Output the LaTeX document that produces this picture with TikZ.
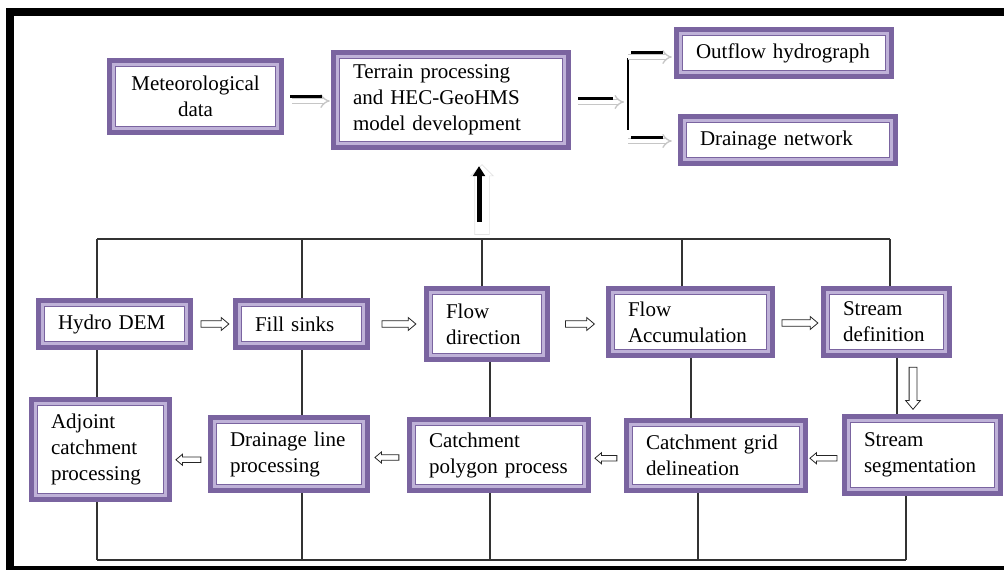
\documentclass[tikz,border=0pt]{standalone}
\usepackage{fontspec}
\setmainfont{Liberation Serif}
\usetikzlibrary{calc,shapes.arrows,arrows.meta}
\definecolor{boxdark}{HTML}{7A64A0}
\definecolor{boxlight}{HTML}{BFB2D8}
\definecolor{linkgray}{HTML}{333333}
\newcommand\boxfont{\fontsize{21}{26}\selectfont}
\tikzset{
  x=1pt, y=-1pt,
  % framed box: thick purple, lavender band, thin purple line, white inside
  pbox/.style 2 args={fill=boxdark, draw=none, inner ysep=0pt, inner xsep=22pt,
    text width=#1pt, minimum height=#2pt, align=left, font=\boxfont,
    path picture={
      \fill[boxlight] ([shift={(5pt,-5pt)}]path picture bounding box.north west)
        rectangle ([shift={(-5pt,5pt)}]path picture bounding box.south east);
      \fill[boxdark] ([shift={(7.8pt,-7.8pt)}]path picture bounding box.north west)
        rectangle ([shift={(-7.8pt,7.8pt)}]path picture bounding box.south east);
      \fill[white] ([shift={(9pt,-9pt)}]path picture bounding box.north west)
        rectangle ([shift={(-9pt,9pt)}]path picture bounding box.south east);
    }},
  link/.style={draw=linkgray, line width=1.2pt},
  openarr/.style={single arrow, draw=black!85, fill=white, line width=0.8pt,
    inner sep=2.8pt, single arrow head extend=3.2pt,
    single arrow tip angle=80, minimum height=#1},
  leftarr/.style={openarr=#1, shape border rotate=180, inner sep=2.3pt,
    single arrow head extend=2.8pt},
  grayarr/.style={draw=gray!45, double=white, double distance=3.5pt,
    line width=1.3pt, -{Implies[length=6pt]}},
  bar/.style={draw=black, line width=3pt},
}
\begin{document}
\begin{tikzpicture}
\useasboundingbox (0,0) rectangle (1004,570);
\fill[white] (0,0) rectangle (1004,570);
% outer frame
\fill[black] (6,8) rectangle (1004,16);
\fill[black] (6,8) rectangle (14,570);
\fill[black] (6,566) rectangle (1004,570);

% top row
\node[pbox={133}{77}, align=center] (meteo) at (195.5,96.5) {Meteorological\\data};
\node[pbox={196}{100}] (terrain) at (451,100) {Terrain processing\\and HEC-GeoHMS\\model development};
\node[pbox={176}{52}] (outflow) at (784,53) {Outflow hydrograph};
\node[pbox={176}{52}] (drainnet) at (788,140) {Drainage network};

% processing row 1
\node[pbox={113}{52}] (hydro) at (114.5,324) {Hydro DEM};
\node[pbox={93}{52}] (fill) at (301.5,324) {Fill sinks};
\node[pbox={82}{76}] (flowdir) at (487,324) {Flow\\direction};
\node[pbox={125}{72}] (flowacc) at (690.5,322) {Flow\\Accumulation};
\node[pbox={87}{72}] (streamdef) at (886.5,322) {Stream\\definition};

% processing row 2
\node[pbox={99}{105}] (adjoint) at (100.5,449.5) {Adjoint\\catchment\\processing};
\node[pbox={118}{78}] (drainline) at (289,454) {Drainage line\\processing};
\node[pbox={140}{76}] (poly) at (499,455) {Catchment\\polygon process};
\node[pbox={140}{75}] (grid) at (716,455.5) {Catchment grid\\delineation};
\node[pbox={117}{82}] (seg) at (922.5,455) {Stream\\segmentation};

% column and bus positions
\coordinate (tb) at (0,239);
\coordinate (bb) at (0,560);
\coordinate (x1) at (97,0);
\coordinate (x2) at (302,0);
\coordinate (x3t) at (482,0);
\coordinate (x3) at (490,0);
\coordinate (x4t) at (682,0);
\coordinate (x4m) at (691,0);
\coordinate (x4b) at (698,0);
\coordinate (x5t) at (890,0);
\coordinate (x5m) at (897,0);
\coordinate (x5b) at (906,0);
\coordinate (xv) at (913,0);
\coordinate (xup) at (479,0);

% top bus
\draw[link] (tb -| x1) -- (tb -| x5t);
\foreach \n/\c in {hydro/x1, fill/x2, flowdir/x3t, flowacc/x4t, streamdef/x5t}
  \draw[link] (tb -| \c) -- (\n.north -| \c);
% links between the two rows
\foreach \a/\b/\c in {hydro/adjoint/x1, fill/drainline/x2, flowdir/poly/x3,
                     flowacc/grid/x4m, streamdef/seg/x5m}
  \draw[link] (\a.south -| \c) -- (\b.north -| \c);
% bottom bus
\draw[link] (bb -| x1) -- (bb -| x5b);
\foreach \n/\c in {adjoint/x1, drainline/x2, poly/x3, grid/x4b, seg/x5b}
  \draw[link] (\n.south -| \c) -- (bb -| \c);

% open arrows, row 1
\node[openarr=28pt] (r1) at ($(hydro.east)!0.5!(fill.west)$) {};
\node[openarr=34pt] (r2) at ($(fill.east)!0.5!(flowdir.west)$) {};
\node[openarr=29pt] (r3) at ($(flowdir.east)!0.5!(flowacc.west)+(0,1)$) {};
\node[openarr=36pt] (r4) at ($(flowacc.east)!0.5!(streamdef.west)+(0,1)$) {};
% down arrow
\node[openarr=42pt, shape border rotate=270, inner sep=3.5pt,
      single arrow head extend=3.5pt] (dn) at ($(streamdef.south -| xv)!0.5!(seg.north -| xv)$) {};
% open arrows, row 2
\node[leftarr=27pt] (l1) at ($(seg.west)!0.5!(grid.east)+(0,3)$) {};
\node[leftarr=22pt] (l2) at ($(grid.west)!0.5!(poly.east)+(0,3)$) {};
\node[leftarr=24pt] (l3) at ($(poly.west)!0.5!(drainline.east)+(0,3)$) {};
\node[leftarr=25pt] (l4) at ($(drainline.west)!0.5!(adjoint.east)+(0,8)$) {};

% upward arrow into the terrain box, with its faint outline behind
\node[single arrow, draw=gray!22, line width=0.7pt, inner sep=7pt,
      single arrow head extend=4pt, minimum height=70pt,
      shape border rotate=90] (upshadow) at ($(terrain.south -| xup)+(3,53)$) {};
\draw[line width=5pt, -{Triangle[length=10pt,width=12pt]}]
  ($(terrain.south -| xup)+(0,72)$) -- ($(terrain.south -| xup)+(0,16)$);

% arrows on the top row
\coordinate (br) at (628,98);
\draw[grayarr] ($(meteo.east)+(8,4.5)$) -- ($(terrain.west |- meteo.east)+(-1,4.5)$);
\draw[bar] ($(meteo.east)+(6,-0.5)$) -- ($(terrain.west |- meteo.east)+(-9,-0.5)$);
\draw[grayarr] ($(terrain.east)+(7,2)$) -- ($(br |- terrain.east)+(-4,2)$);
\draw[bar] ($(terrain.east)+(7,-2)$) -- ($(br |- terrain.east)+(-15,-2)$);
\draw[draw=black, line width=1.3pt] ($(br)+(0,-40)$) -- ($(br)+(0,32)$);
\draw[grayarr] ($(br |- outflow.west)+(0,4)$) -- ($(outflow.west)+(-2,4)$);
\draw[bar] ($(br |- outflow.west)+(3,-1)$) -- ($(outflow.west)+(-11,-1)$);
\draw[grayarr] ($(br |- drainnet.west)+(0,1)$) -- ($(drainnet.west)+(-6,1)$);
\draw[bar] ($(br |- drainnet.west)+(3,-3)$) -- ($(drainnet.west)+(-15,-3)$);
\end{tikzpicture}
\end{document}
